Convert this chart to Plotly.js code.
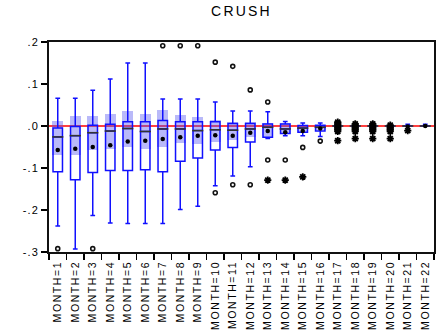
<!DOCTYPE html>
<html>
<head>
<meta charset="utf-8">
<script src="https://cdn.plot.ly/plotly-3.0.1.min.js"></script>
<style>
html,body{margin:0;padding:0;background:#fff;}
#chart{width:443px;height:334px;}
.xtick text{letter-spacing:1.6px;}
.ytick text{letter-spacing:1.2px;}
.gtitle{letter-spacing:2.2px;}
</style>
</head>
<body>
<div id="chart"></div>
<script>
// ---- data ----
const months = ["MONTH=1","MONTH=2","MONTH=3","MONTH=4","MONTH=5","MONTH=6","MONTH=7","MONTH=8","MONTH=9","MONTH=10","MONTH=11","MONTH=12","MONTH=13","MONTH=14","MONTH=15","MONTH=16","MONTH=17","MONTH=18","MONTH=19","MONTH=20","MONTH=21","MONTH=22"];
const upperWhisker = [0.066,0.066,0.085,0.112,0.150,0.150,0.064,0.064,0.064,0.057,0.036,0.036,0.034,0.011,0.007,0.007,0,0,0,0,0.004,0.004];
const q3Values     = [-0.005,-0.001,0.002,0.004,0.010,0.010,0.013,0.010,0.010,0.010,0.006,0.006,0.005,0.005,0.001,0.002,0,0,0,0,0,0];
const medianValues = [-0.026,-0.023,-0.016,-0.012,-0.006,-0.013,-0.007,-0.007,-0.011,-0.009,-0.010,-0.007,-0.003,-0.007,-0.005,-0.003,0,0,0,0,0,0];
const q1Values     = [-0.109,-0.128,-0.111,-0.106,-0.106,-0.104,-0.109,-0.084,-0.076,-0.057,-0.051,-0.038,-0.027,-0.018,-0.015,-0.012,0,0,0,0,0,0];
const lowerWhisker = [-0.238,-0.293,-0.213,-0.231,-0.232,-0.232,-0.232,-0.199,-0.191,-0.142,-0.119,-0.097,-0.030,-0.023,-0.023,-0.025,0,0,0,0,0,0];
const meanValues   = [-0.057,-0.054,-0.050,-0.046,-0.037,-0.035,-0.031,-0.027,-0.023,-0.022,-0.023,-0.016,-0.012,-0.015,-0.012,-0.006,-0.003,-0.003,-0.003,-0.003,-0.001,0.000];
const ciHigh       = [0.013,0.025,0.025,0.028,0.036,0.029,0.037,0.026,0.021,0.015,0.009,0.009,0.007,0.006,0.002,0.002,0,0,0,0,0,0];
const ciLow        = [-0.068,-0.069,-0.058,-0.055,-0.050,-0.054,-0.051,-0.041,-0.043,-0.037,-0.033,-0.025,-0.028,-0.020,-0.016,-0.010,0,0,0,0,0,0];

// near outliers (circles)
const nearMonth = [1,3,7,8,9,10,10,11,11,12,12,13,13,14,15,16];
const nearValue = [-0.292,-0.292,0.191,0.191,0.191,0.152,-0.159,0.142,-0.140,0.086,-0.140,0.057,-0.081,-0.081,-0.051,-0.036];
// far outliers (stars)
const farMonth = [13,14,15,
  17,17,17,17,17,17,17,17,
  18,18,18,18,18,18,18,
  19,19,19,19,19,19,19,
  20,20,20,20,20,20,
  21];
const farValue = [-0.129,-0.129,-0.121,
  0.009,0.006,0.003,-0.003,-0.006,-0.009,-0.013,-0.035,
  0.005,0.002,-0.003,-0.006,-0.009,-0.013,-0.030,
  0.005,0.002,-0.003,-0.006,-0.009,-0.013,-0.030,
  0.002,-0.003,-0.006,-0.009,-0.013,-0.030,
  -0.011];

const yTickVals = [-0.3,-0.2,-0.1,0,0.1,0.2];
const yTickText = ["-.3","-.2","-.1",".0",".1",".2"];

// ---- traces ----
const ciTrace = {
  type:'bar', x: months,
  base: ciLow,
  y: ciHigh.map((h,i)=>h-ciLow[i]),
  width: 0.63,
  marker:{color:'rgba(80,80,240,0.40)', line:{width:0}},
  hoverinfo:'skip', showlegend:false
};
const boxTrace = {
  type:'box', x: months,
  q1: q1Values, median: medianValues, q3: q3Values,
  lowerfence: lowerWhisker, upperfence: upperWhisker,
  boxpoints:false,
  width:0.54, whiskerwidth:0.5,
  line:{color:'#1010ff', width:1.5},
  fillcolor:'rgba(255,255,255,0)',
  showlegend:false
};
const medianTrace = {
  type:'scatter', mode:'markers', x: months, y: medianValues,
  marker:{symbol:'line-ew', size:8, color:'#333', line:{color:'#333', width:1.6}},
  showlegend:false, hoverinfo:'skip'
};
const meanTrace = {
  type:'scatter', mode:'markers', x: months, y: meanValues,
  marker:{symbol:'circle', size:4.5, color:'#000'},
  showlegend:false
};
const nearTrace = {
  type:'scatter', mode:'markers',
  x: nearMonth.map(m=>months[m-1]), y: nearValue,
  marker:{symbol:'circle-open', size:4, color:'#111', line:{color:'#111', width:1.6}},
  showlegend:false
};
const farTrace = {
  type:'scatter', mode:'markers',
  x: farMonth.map(m=>months[m-1]), y: farValue,
  marker:{symbol:'asterisk-open', size:6, color:'#000', line:{color:'#000', width:1.8}},
  showlegend:false
};

const layout = {
  width:443, height:334,
  margin:{l:49, r:9, t:42, b:82},
  paper_bgcolor:'#fff', plot_bgcolor:'#fff',
  showlegend:false,
  bargap:0,
  title:{text:'CRUSH', x:0.5, xref:'paper', xanchor:'center', y:0.966, yanchor:'middle',
         font:{family:'Liberation Sans, Arial, sans-serif', size:14, color:'#000'}},
  xaxis:{
    type:'category', range:[-0.5,21.5],
    tickson:'boundaries', ticks:'outside', ticklen:6, tickwidth:1.2, tickcolor:'#000',
    tickangle:-90, ticklabelstandoff:3,
    tickfont:{family:'Liberation Sans, Arial, sans-serif', size:10.5, color:'#000'},
    showline:true, linecolor:'#111', linewidth:1.6, mirror:true,
    showgrid:false, zeroline:false, fixedrange:true
  },
  yaxis:{
    range:[-0.3,0.2],
    tickvals:yTickVals, ticktext:yTickText,
    ticks:'outside', ticklen:6, tickwidth:1.2, tickcolor:'#000',
    tickfont:{family:'Liberation Sans, Arial, sans-serif', size:11, color:'#000'},
    showline:true, linecolor:'#111', linewidth:1.6, mirror:true,
    showgrid:false, zeroline:false, fixedrange:true
  },
  shapes:[{type:'line', xref:'paper', x0:0, x1:1, yref:'y', y0:0, y1:0,
           line:{color:'#ff0000', width:1.5}, layer:'below'}]
};

Plotly.newPlot('chart', [ciTrace, boxTrace, medianTrace, meanTrace, nearTrace, farTrace], layout, {staticPlot:true, displayModeBar:false});
</script>
</body>
</html>
